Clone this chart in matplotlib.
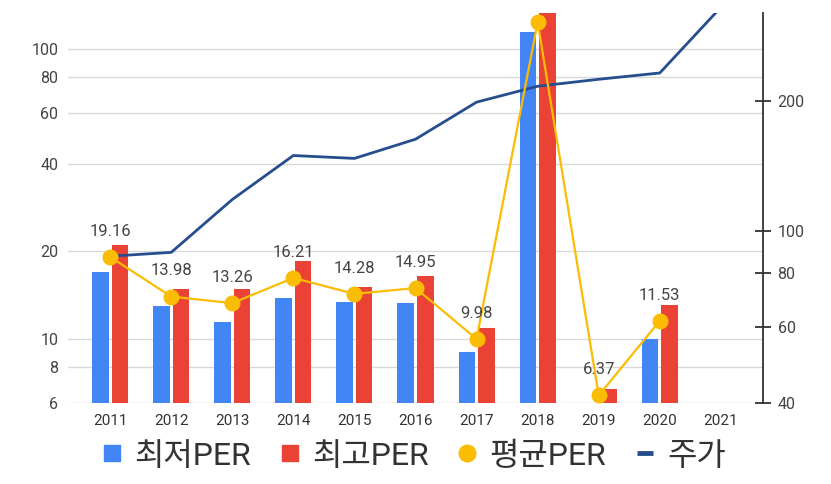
import numpy as np
import matplotlib
matplotlib.use("Agg")
import matplotlib.pyplot as plt
from matplotlib.ticker import FixedLocator, FuncFormatter, NullLocator
from matplotlib.lines import Line2D

plt.rcParams['font.family'] = ['Roboto', 'Noto Sans CJK KR', 'DejaVu Sans']

# data
years = ['2011', '2012', '2013', '2014', '2015', '2016', '2017', '2018', '2019', '2020', '2021']
per_low = [17.05, 13.0, 11.45, 13.8, 13.4, 13.25, 9.0, 114.0, 6.0, 10.0, np.nan]
per_high = [21.0, 14.9, 14.9, 18.5, 15.05, 16.5, 10.86, 134.0, 6.73, 13.06, np.nan]
per_avg = [19.16, 13.98, 13.26, 16.21, 14.28, 14.95, 9.98, 123.7, 6.37, 11.53, np.nan]
avg_labels = ['19.16', '13.98', '13.26', '16.21', '14.28', '14.95', '9.98', None, '6.37', '11.53', None]
price = [87.5, 89.3, 118.4, 149.7, 147.4, 163.3, 199.0, 216.6, 224.8, 232.5, 330.0]

left_ticks = [6, 8, 10, 20, 40, 60, 80, 100]
right_ticks = [40, 60, 80, 100, 200]

c_low = '#4285F4'
c_high = '#EA4335'
c_avg = '#FBBC04'
c_price = '#264E8E'
c_text = '#444444'

fig = plt.figure(figsize=(8.31, 4.84), dpi=100)
pos = [0.0818, 0.1674, 0.8364, 0.8056]
ax = fig.add_axes(pos)
ax2 = ax.twinx()
ax3 = fig.add_axes(pos, sharex=ax, sharey=ax)

x = np.arange(len(years))
w = 0.27
ax.set_yscale('log')
ax.bar(x - 0.16, per_low, w, color=c_low, zorder=2)
ax.bar(x + 0.16, per_high, w, color=c_high, zorder=2)

ax.set_ylim(6, 133)
ax.set_xlim(-0.69, len(years) - 0.31)
ax.yaxis.set_major_locator(FixedLocator(left_ticks))
ax.yaxis.set_minor_locator(NullLocator())
ax.yaxis.set_major_formatter(FuncFormatter(lambda v, p: '%d' % v))
ax.grid(axis='y', color='#d9d9d9', lw=1, zorder=0)
ax.set_axisbelow(True)
ax.set_xticks(x)
ax.set_xticklabels(years)
ax.tick_params(axis='x', length=0, pad=8, labelsize=11, labelcolor='#333333')
ax.tick_params(axis='y', length=0, pad=7, labelsize=11.5, labelcolor=c_text)
for s in ax.spines.values():
    s.set_visible(False)

# price on right axis
ax2.plot(x, price, color=c_price, lw=2)
ax2.set_yscale('log')
ax2.set_ylim(40, 320)
ax2.yaxis.set_major_locator(FixedLocator(right_ticks))
ax2.yaxis.set_minor_locator(NullLocator())
ax2.yaxis.set_major_formatter(FuncFormatter(lambda v, p: '%d' % v))
ax2.tick_params(axis='y', direction='inout', length=11, width=1.3, color='#333333',
                pad=5, labelsize=11.5, labelcolor=c_text)
for k in ['left', 'top', 'bottom']:
    ax2.spines[k].set_visible(False)
ax2.spines['right'].set_color('#333333')
ax2.spines['right'].set_linewidth(1.3)

# average PER on top
ax3.plot(x, per_avg, color=c_avg, lw=1.6, marker='o', markersize=10.5, zorder=3)
ax3.set_axis_off()
ax3.patch.set_visible(False)
for xi, v, lab in zip(x, per_avg, avg_labels):
    if lab is None:
        continue
    ax3.annotate(lab, (xi, v), xytext=(0, 13), textcoords='offset points',
                 ha='center', va='bottom', fontsize=12, color=c_text)

handles = [
    Line2D([], [], ls='none', marker='s', markersize=11.5, color=c_low),
    Line2D([], [], ls='none', marker='s', markersize=11.5, color=c_high),
    Line2D([], [], ls='none', marker='o', markersize=12, color=c_avg),
    Line2D([], [], ls='none', marker='_', markersize=11.5, markeredgewidth=3.5, color=c_price),
]
labels = ['최저PER', '최고PER', '평균PER', '주가']
leg = fig.legend(handles, labels, loc='center', bbox_to_anchor=(0.4994, 0.058), ncol=4,
                 frameon=False, fontsize=23, handlelength=0.5, handletextpad=0.45,
                 columnspacing=0.95)
for t in leg.get_texts():
    t.set_color('#333333')

fig.savefig('out.png', dpi=100)
